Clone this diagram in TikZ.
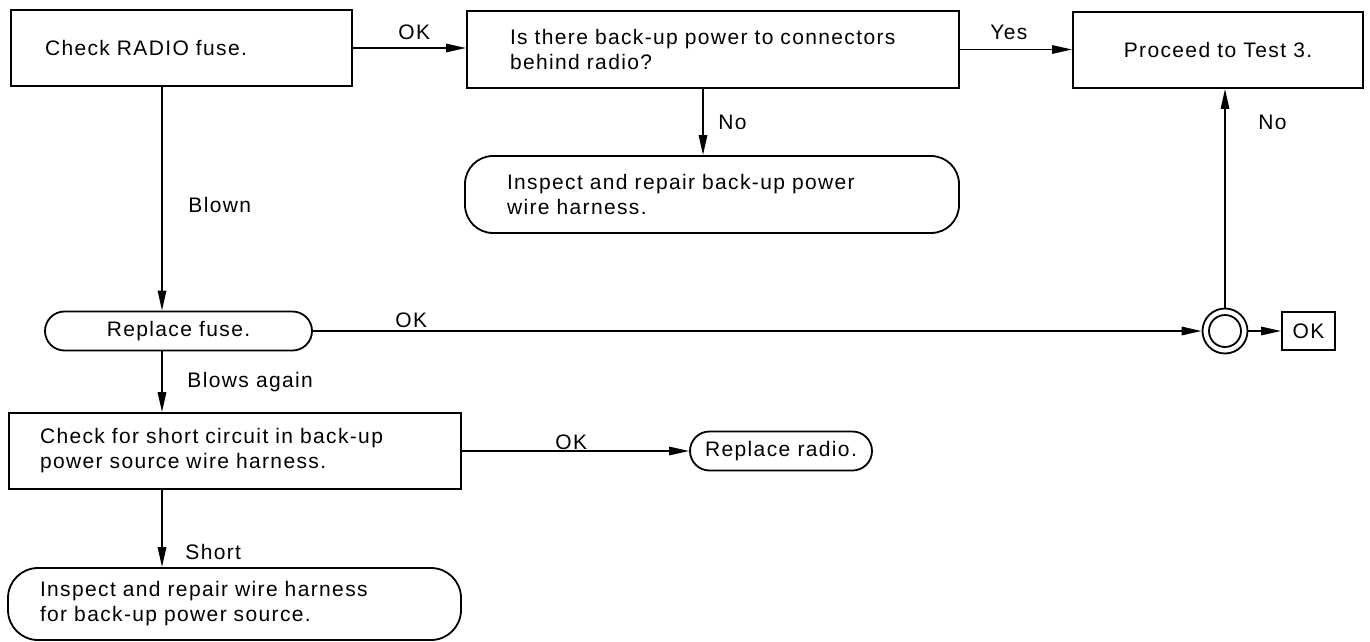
\documentclass[tikz,border=0pt]{standalone}
\usepackage{fontspec}
\setmainfont{Liberation Sans}[LetterSpace=6.5]
\usetikzlibrary{arrows.meta,positioning}

\tikzset{
  stepbox/.style={draw,line width=0.9pt,minimum height=38pt,inner ysep=0pt},
  endbox/.style={draw,line width=0.9pt,rounded corners=14pt,inner ysep=0pt},
  lbl/.style={inner sep=0pt,anchor=base west},
  arr/.style={-{Triangle[length=10pt,width=4.2pt]},line width=0.9pt},
}

\begin{document}
\begin{tikzpicture}[x=0.5pt,y=-0.5pt,font=\fontsize{10.5pt}{12.5pt}\selectfont]
  \useasboundingbox (0,0) rectangle (1370,642);
  % top row
  \node[stepbox,text width=136.5pt,inner xsep=17pt,align=left] (fuse) at (181.5,48) {Check RADIO fuse.};
  \node[stepbox,text width=203pt,inner xsep=21.5pt,align=left,minimum height=38.5pt] (power) at (713,49.5)
    {Is there back-up power to connectors\\behind radio?};
  \node[stepbox,minimum width=145pt] (test3) at (1218,50) {Proceed to Test 3.};
  \node[endbox,text width=205pt,inner xsep=21pt,align=left,minimum height=38.5pt] (harness) at (712,194.5)
    {Inspect and repair back-up power\\wire harness.};
  % fuse branch
  \node[endbox,rounded corners=9.75pt,minimum width=133.5pt,minimum height=19.5pt] (newfuse) at (178.5,331) {Replace fuse.};
  \node[draw,circle,line width=0.9pt,minimum size=22.5pt,inner sep=0pt] (join) at (1225,331) {};
  \draw[line width=0.9pt] (join.center) circle[radius=8pt];
  \node[draw,line width=0.9pt,minimum width=26.5pt,minimum height=19pt,inner sep=0pt] (okbox) at (1308.5,331) {OK};
  \node[stepbox,text width=195pt,inner xsep=15.5pt,align=left] (short) at (235,451)
    {Check for short circuit in back-up\\power source wire harness.};
  \node[endbox,rounded corners=9.75pt,minimum width=91pt,minimum height=19.5pt] (radio) at (781,451) {Replace radio.};
  \node[endbox,rounded corners=15pt,text width=194.5pt,inner xsep=16pt,align=left,minimum height=36pt] (repair) at (234.5,604)
    {Inspect and repair wire harness\\for back-up power source.};

  \coordinate (lane) at (162,0);
  \coordinate (noX) at (703,0);

  % connectors
  \draw[arr] (fuse.east) -- (fuse.east -| power.west);
  \draw[arr] (power.east) -- (power.east -| test3.west);
  \draw[arr] (power.south -| noX) -- (harness.north -| noX);
  \draw[arr] (fuse.south -| lane) -- (newfuse.north -| lane);
  \draw[arr] (newfuse.east) -- (join.west);
  \draw[arr] (join.north) -- (join.north |- test3.south);
  \draw[arr] (join.east) -- (okbox.west);
  \draw[arr] (newfuse.south -| lane) -- (short.north -| lane);
  \draw[arr] (short.east) -- (short.east -| radio.west);
  \draw[arr] (short.south -| lane) -- (repair.north -| lane);

  % labels
  \node[lbl] (okA) at (398,40) {OK};
  \node[lbl] (yes) at (990,40) {Yes};
  \node[lbl] (noA) at (718,130) {No};
  \node[lbl] (noB) at (1258,130) {No};
  \node[lbl] (blown) at (188,212) {Blown};
  \node[lbl] (okB) at (395,327) {OK};
  \node[lbl] (again) at (187,387) {Blows again};
  \node[lbl] (okC) at (555,449) {OK};
  \node[lbl] (shrt) at (185,559) {Short};
\end{tikzpicture}
\end{document}
